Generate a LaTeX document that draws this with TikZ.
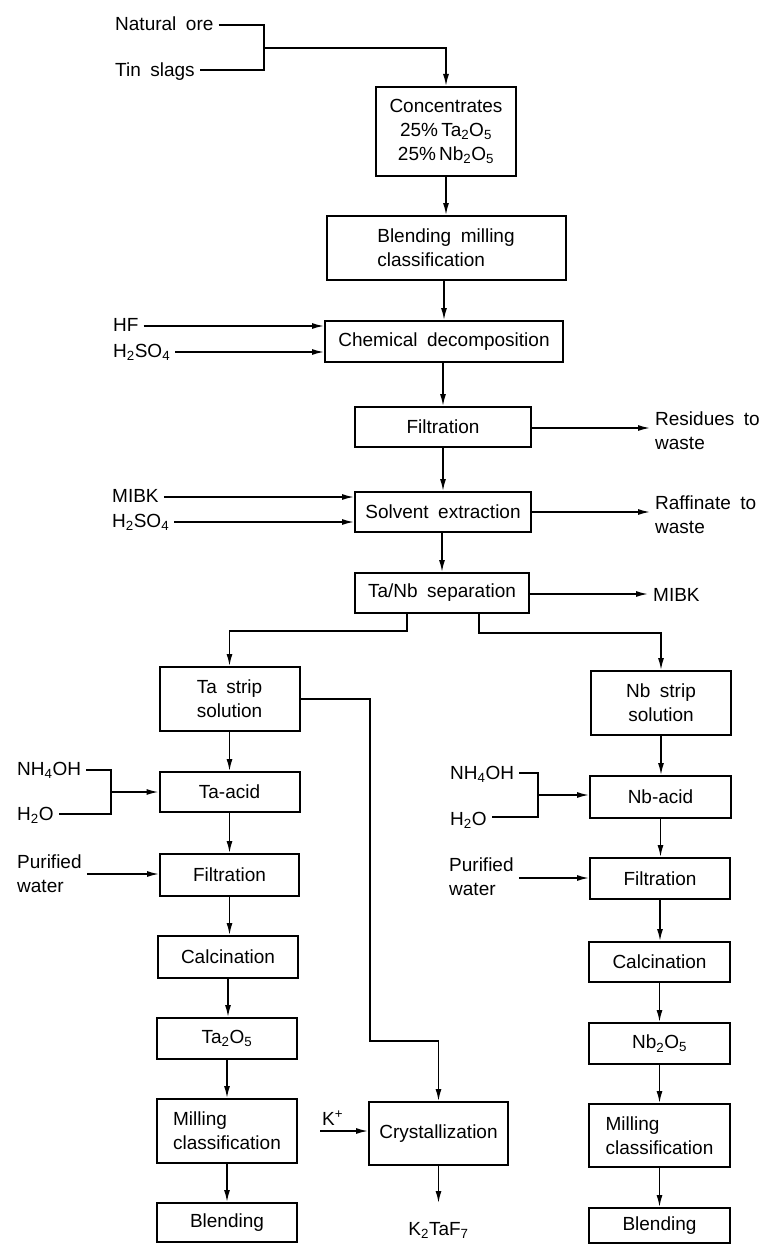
\documentclass[tikz,border=0pt]{standalone}
\usepackage{fontspec}
\setmainfont[WordSpace=1.8]{Liberation Sans}
\usetikzlibrary{arrows.meta}
\newcommand\dfont{\fontsize{19}{24}\selectfont}
\tikzset{
  box/.style={draw, line width=2pt, inner sep=0pt, align=center, font=\dfont},
  lab/.style={inner xsep=5pt, inner ysep=0pt, font=\dfont, anchor=base west},
  mlab/.style={inner xsep=5pt, inner ysep=0pt, font=\dfont, anchor=west, align=left},
  ln/.style={line width=1.5pt},
  arr/.style={line width=1.5pt, -{Latex[length=12pt,width=6pt]}},
}
\begin{document}
\begin{tikzpicture}[x=1pt,y=-1pt]
\fill[white] (0,0) rectangle (768,1244);
\useasboundingbox (0,0) rectangle (768,1244);

% main column
\node[box, minimum width=140pt, minimum height=89pt] (conc) at (446,131.5)
  {Concentrates\\25\%\,Ta\textsubscript{2}O\textsubscript{5}\\25\%\,Nb\textsubscript{2}O\textsubscript{5}};
\node[box, align=left, minimum width=239pt, minimum height=64pt] (blend) at (446,248)
  {Blending milling\\classification};
\node[box, minimum width=238pt, minimum height=41pt] (chem) at (444,341.5) {Chemical decomposition};
\node[box, minimum width=176pt, minimum height=40pt] (filt) at (443,427) {Filtration};
\node[box, minimum width=176pt, minimum height=40pt] (solv) at (443,512) {Solvent extraction};
\node[box, minimum width=174pt, minimum height=40pt] (sep) at (442,593) {Ta/Nb separation};

% Ta column
\node[box, minimum width=140pt, minimum height=64pt] (tastrip) at (229.5,699) {Ta strip\\solution};
\node[box, minimum width=140pt, minimum height=40pt] (taacid) at (229.5,792) {Ta-acid};
\node[box, minimum width=139pt, minimum height=42pt] (tafilt) at (229.5,875) {Filtration};
\node[box, minimum width=140pt, minimum height=42pt] (tacalc) at (228,957) {Calcination};
\node[box, minimum width=140pt, minimum height=41pt] (tao) at (227,1038.5) {Ta\textsubscript{2}O\textsubscript{5}};
\node[box, align=left, minimum width=140pt, minimum height=64pt] (tamill) at (227,1131) {Milling\\classification};
\node[box, minimum width=140pt, minimum height=39pt] (tablend) at (227,1222.5) {Blending};

% Nb column
\node[box, minimum width=140pt, minimum height=64pt] (nbstrip) at (661,703) {Nb strip\\solution};
\node[box, minimum width=141pt, minimum height=42pt] (nbacid) at (660.5,797) {Nb-acid};
\node[box, minimum width=140pt, minimum height=41pt] (nbfilt) at (660,878.5) {Filtration};
\node[box, minimum width=141pt, minimum height=40pt] (nbcalc) at (659.5,962) {Calcination};
\node[box, minimum width=141pt, minimum height=41pt] (nbo) at (659.5,1043.5) {Nb\textsubscript{2}O\textsubscript{5}};
\node[box, align=left, minimum width=141pt, minimum height=63pt] (nbmill) at (659.5,1135.5) {Milling\\classification};
\node[box, minimum width=141pt, minimum height=35pt] (nbblend) at (659.5,1225.5) {Blending};

% crystallization
\node[box, minimum width=139pt, minimum height=63pt] (cryst) at (438.5,1133.5) {Crystallization};

% labels
\node[lab] (natural) at (110,31) {Natural ore};
\node[lab] (tin) at (110,77) {Tin slags};
\node[lab] (hf) at (108,331) {HF};
\node[lab] (h2a) at (108,357) {H\textsubscript{2}SO\textsubscript{4}};
\node[lab] (mibkL) at (107,502) {MIBK};
\node[lab] (h2b) at (107,527) {H\textsubscript{2}SO\textsubscript{4}};
\node[mlab] (residues) at (650,430.5) {Residues to\\waste};
\node[mlab] (raff) at (650,514.5) {Raffinate to\\waste};
\node[lab] (mibkR) at (648,601) {MIBK};
\node[lab] (nh4L) at (12,775) {NH\textsubscript{4}OH};
\node[lab] (h2oL) at (12,820) {H\textsubscript{2}O};
\node[mlab] (purL) at (12,873.5) {Purified\\water};
\node[lab] (nh4R) at (445,779) {NH\textsubscript{4}OH};
\node[lab] (h2oR) at (445,825) {H\textsubscript{2}O};
\node[mlab] (purR) at (444,877) {Purified\\water};
\node[lab] (kplus) at (317,1125) {K\textsuperscript{+}};
\node[font=\dfont, inner sep=0pt, anchor=base] (ktaf) at (438.5,1235) {K\textsubscript{2}TaF\textsubscript{7}};

% coordinates
\coordinate (j1) at (264,25);
\coordinate (j2) at (264,70);
\coordinate (jm) at (264,48);
\coordinate (yhf) at (0,326);
\coordinate (yh2a) at (0,352);
\coordinate (ymibk) at (0,497);
\coordinate (yh2b) at (0,522);
\coordinate (yres) at (0,428);
\coordinate (yraf) at (0,512);
\coordinate (ymib) at (0,594);
\coordinate (sL) at (407,631);
\coordinate (sR) at (479,633);
\coordinate (tc1) at (370,1041);
\coordinate (nl1) at (111,770);
\coordinate (nl2) at (111,814);
\coordinate (nlm) at (111,792);
\coordinate (nr1) at (538,773);
\coordinate (nr2) at (538,817);
\coordinate (nrm) at (538,795);
\coordinate (ypL) at (0,874);
\coordinate (ypR) at (0,878);
\coordinate (kst) at (320,1131);
\coordinate (kend) at (438.5,1203);

% feed
\draw[ln] (natural.east |- j1) -- (j1) -- (j2) -- (tin.east |- j2);
\draw[arr] (jm) -| (conc.north);

% main column flow
\draw[arr] (conc.south) -- (conc.south |- blend.north);
\draw[arr] (blend.south -| chem.north) -- (chem.north);
\draw[arr] (chem.south -| filt.north) -- (filt.north);
\draw[arr] (filt.south) -- (filt.south |- solv.north);
\draw[arr] (solv.south -| sep.north) -- (sep.north);

% inputs / outputs
\draw[arr] (hf.east |- yhf) -- (chem.west |- yhf);
\draw[arr] (h2a.east |- yh2a) -- (chem.west |- yh2a);
\draw[arr] (mibkL.east |- ymibk) -- (solv.west |- ymibk);
\draw[arr] (h2b.east |- yh2b) -- (solv.west |- yh2b);
\draw[arr] (filt.east |- yres) -- (residues.west |- yres);
\draw[arr] (solv.east |- yraf) -- (raff.west |- yraf);
\draw[arr] (sep.east |- ymib) -- (mibkR.west |- ymib);

% split
\draw[arr] (sL |- sep.south) -- (sL) -| (tastrip.north);
\draw[arr] (sR |- sep.south) -- (sR) -| (nbstrip.north);

% Ta column
\draw[arr] (tastrip.south -| taacid.north) -- (taacid.north);
\draw[arr] (taacid.south -| tafilt.north) -- (tafilt.north);
\draw[arr] (tafilt.south) -- (tafilt.south |- tacalc.north);
\draw[arr] (tacalc.south) -- (tacalc.south |- tao.north);
\draw[arr] (tao.south -| tamill.north) -- (tamill.north);
\draw[arr] (tamill.south -| tablend.north) -- (tablend.north);
\draw[ln] (nh4L.east |- nl1) -- (nl1) -- (nl2) -- (h2oL.east |- nl2);
\draw[arr] (nlm) -- (taacid.west |- nlm);
\draw[arr] (purL.east |- ypL) -- (tafilt.west |- ypL);

% Ta strip to crystallization
\draw[arr] (tastrip.east) -| (tc1) -| (cryst.north);
\draw[arr] (kst) -- (cryst.west |- kst);
\draw[arr] (cryst.south) -- (kend);

% Nb column
\draw[arr] (nbstrip.south) -- (nbstrip.south |- nbacid.north);
\draw[arr] (nbacid.south) -- (nbacid.south |- nbfilt.north);
\draw[arr] (nbfilt.south) -- (nbfilt.south |- nbcalc.north);
\draw[arr] (nbcalc.south -| nbo.north) -- (nbo.north);
\draw[arr] (nbo.south -| nbmill.north) -- (nbmill.north);
\draw[arr] (nbmill.south -| nbblend.north) -- (nbblend.north);
\draw[ln] (nh4R.east |- nr1) -- (nr1) -- (nr2) -- (h2oR.east |- nr2);
\draw[arr] (nrm) -- (nbacid.west |- nrm);
\draw[arr] (purR.east |- ypR) -- (nbfilt.west |- ypR);
\end{tikzpicture}
\end{document}
